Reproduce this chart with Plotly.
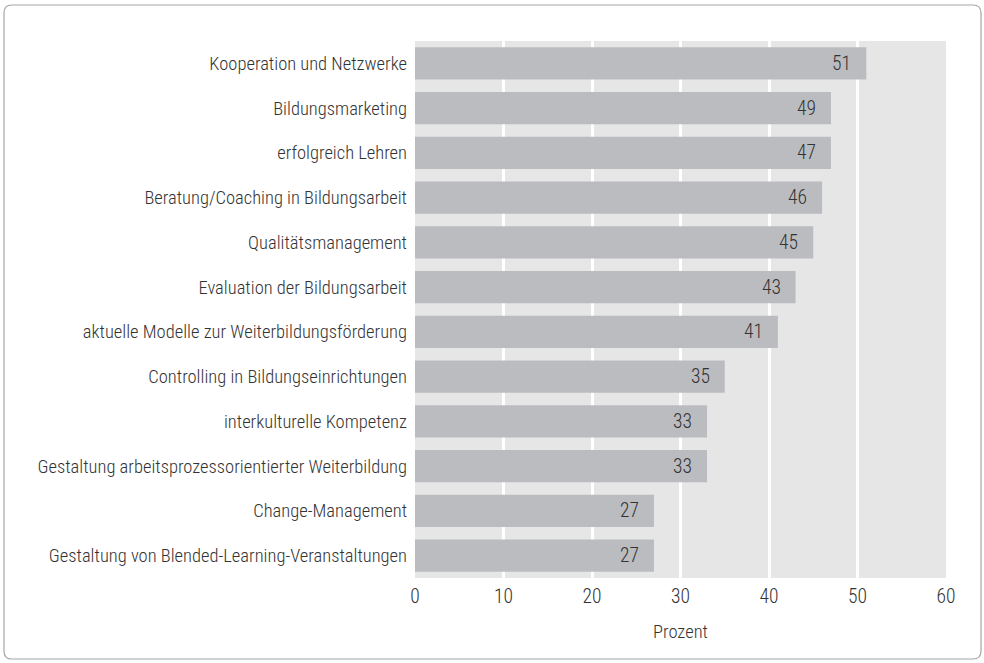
import plotly.graph_objects as go

categories = [
    "Kooperation und Netzwerke",
    "Bildungsmarketing",
    "erfolgreich Lehren",
    "Beratung/Coaching in Bildungsarbeit",
    "Qualitätsmanagement",
    "Evaluation der Bildungsarbeit",
    "aktuelle Modelle zur Weiterbildungsförderung",
    "Controlling in Bildungseinrichtungen",
    "interkulturelle Kompetenz",
    "Gestaltung arbeitsprozessorientierter Weiterbildung",
    "Change-Management",
    "Gestaltung von Blended-Learning-Veranstaltungen",
]
# bar lengths as drawn in the picture
bar_values = [51, 47, 47, 46, 45, 43, 41, 35, 33, 33, 27, 27]
# value labels as printed in the picture
value_labels = ["51", "49", "47", "46", "45", "43", "41", "35", "33", "33", "27", "27"]
x_ticks = [0, 10, 20, 30, 40, 50, 60]
x_title = "Prozent"

FONT = "Roboto Condensed"
TEXT_COLOR = "#333333"
FS = 18.5
NUM_FS = 19.5

W, H = 984, 663
ML, MR, MT, MB = 415, 38, 41, 85
PW, PH = W - ML - MR, H - MT - MB

fig = go.Figure()
fig.add_trace(go.Bar(
    x=bar_values,
    y=categories,
    orientation="h",
    marker=dict(color="#bbbcc0", line=dict(width=0)),
    hoverinfo="x+y",
))

for cat, v, lab in zip(categories, bar_values, value_labels):
    fig.add_annotation(
        x=v, y=cat, text=lab, showarrow=False,
        xanchor="right", yanchor="middle", xshift=-13,
        font=dict(family=FONT, size=NUM_FS, color=TEXT_COLOR, weight=300),
    )

# rounded outer frame (pixel -> paper conversion)
def px(xp):
    return (xp - ML) / PW

def py(yp):
    return (H - MB - yp) / PH

x0p, x1p, y0p, y1p, r = 4, 981, 5, 659, 8
path = (
    f"M {px(x0p + r)},{py(y0p)} L {px(x1p - r)},{py(y0p)} "
    f"Q {px(x1p)},{py(y0p)} {px(x1p)},{py(y0p + r)} "
    f"L {px(x1p)},{py(y1p - r)} Q {px(x1p)},{py(y1p)} {px(x1p - r)},{py(y1p)} "
    f"L {px(x0p + r)},{py(y1p)} Q {px(x0p)},{py(y1p)} {px(x0p)},{py(y1p - r)} "
    f"L {px(x0p)},{py(y0p + r)} Q {px(x0p)},{py(y0p)} {px(x0p + r)},{py(y0p)} Z"
)
fig.add_shape(type="path", path=path, xref="paper", yref="paper",
              line=dict(color="#a6a6a6", width=1.2), layer="below")

fig.update_layout(
    width=W, height=H,
    margin=dict(l=ML, r=MR, t=MT, b=MB),
    paper_bgcolor="white",
    plot_bgcolor="#e6e6e6",
    bargap=0.28,
    showlegend=False,
    font=dict(family=FONT, size=FS, color=TEXT_COLOR, weight=300),
    xaxis=dict(
        range=[0, 60],
        tickvals=x_ticks,
        ticktext=[str(t) for t in x_ticks],
        showgrid=True, gridcolor="white", gridwidth=3,
        zeroline=False, showline=False, ticks="",
        ticklabelstandoff=4,
        tickfont=dict(size=NUM_FS),
        title=dict(text=x_title, font=dict(size=FS), standoff=18),
        fixedrange=True,
    ),
    yaxis=dict(
        categoryorder="array",
        categoryarray=categories[::-1],
        showgrid=False, zeroline=False, showline=False,
        ticks="", ticklabelstandoff=7,
        tickfont=dict(size=FS),
        fixedrange=True,
    ),
)

fig.write_html("out.html", config={"displayModeBar": False},
               post_script="document.body.style.margin='0';")
